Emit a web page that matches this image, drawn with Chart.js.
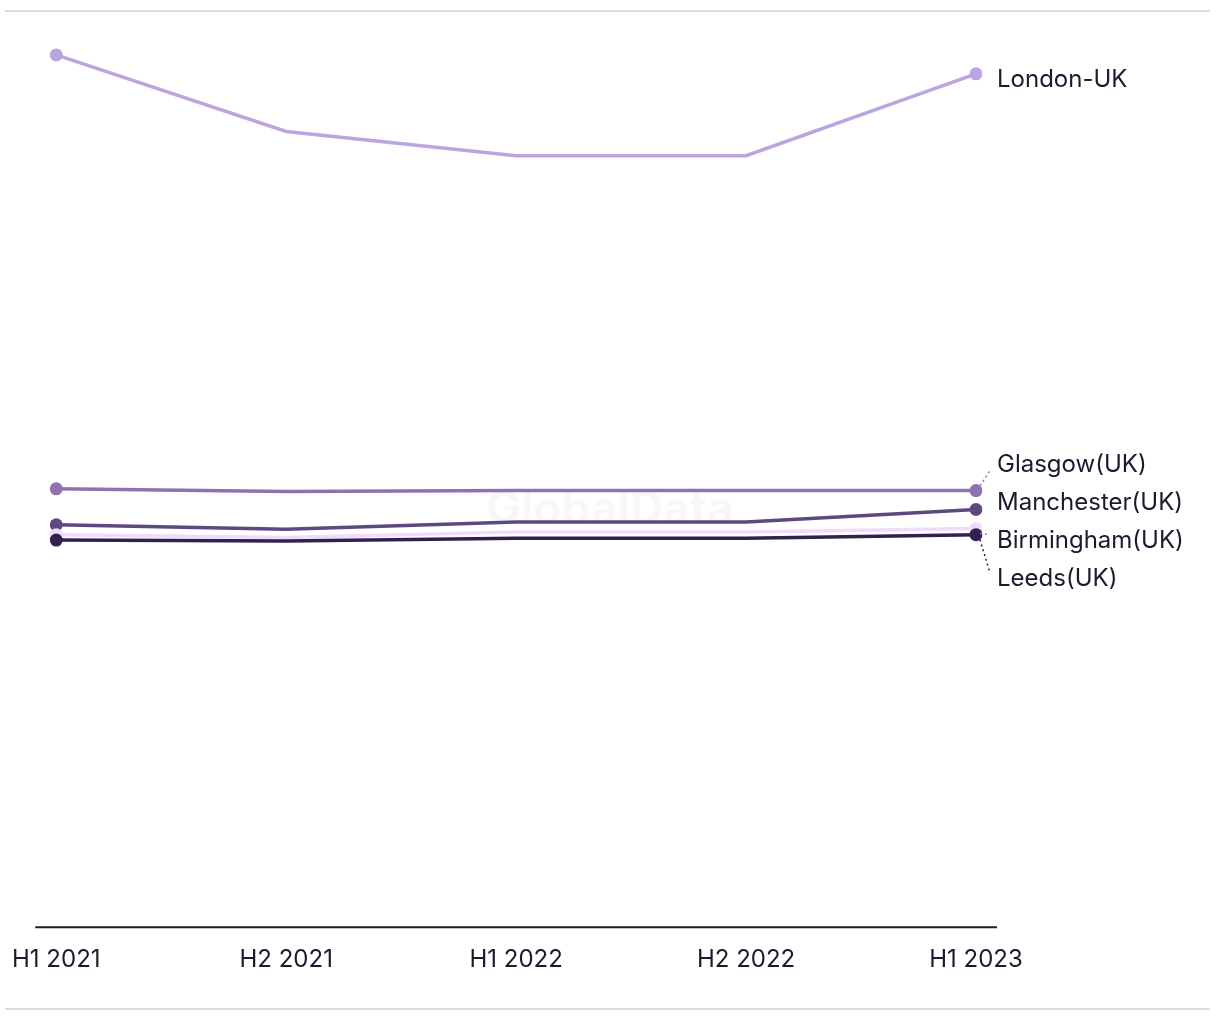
<!DOCTYPE html>
<html>
<head>
<meta charset="utf-8">
<script src="https://cdn.jsdelivr.net/npm/chart.js@4.4.1/dist/chart.umd.min.js"></script>
<style>
  html, body { margin: 0; padding: 0; background: #fff; overflow: hidden; }
  .frame { position: absolute; left: 5px; top: 10px; width: 1205px; height: 996px;
           border-top: 2px solid #dcdcdc; border-bottom: 2px solid #dcdcdc; }
  .wrap { position: absolute; left: -6px; top: 0; width: 1226px; height: 1020px; }
</style>
</head>
<body>
<div class="frame"></div>
<div class="wrap"><canvas id="chart"></canvas></div>
<script>
const periods = ['H1 2021', 'H2 2021', 'H1 2022', 'H2 2022', 'H1 2023'];

const london     = [96.9, 88.4, 85.7, 85.7, 94.8];
const glasgow    = [48.7, 48.4, 48.5, 48.5, 48.5];
const manchester = [44.7, 44.2, 45.0, 45.0, 46.4];
const birmingham = [43.6, 43.3, 43.9, 43.9, 44.3];
const leeds      = [43.0, 42.9, 43.2, 43.2, 43.6];

const FONT = 'Inter, "Open Sans", sans-serif';
const TEXT = '#1b1a2e';

// top-most series first (Chart.js paints dataset 0 last)
const series = [
  { label: 'Leeds(UK)',      data: leeds,      color: '#322050' },
  { label: 'Birmingham(UK)', data: birmingham, color: '#f3d9fc' },
  { label: 'Manchester(UK)', data: manchester, color: '#5e4880' },
  { label: 'Glasgow(UK)',    data: glasgow,    color: '#8e73af' },
  { label: 'London-UK',      data: london,     color: '#bba5e0' },
];

// only first and last points get a dot
const endDots = (n) => Array.from({ length: n }, (_, i) => (i === 0 || i === n - 1) ? 6.5 : 0);

// ── watermark + x axis line ──
const backdrop = {
  id: 'backdrop',
  beforeDatasetsDraw(chart) {
    const { ctx, chartArea: a } = chart;
    ctx.save();
    ctx.font = 'bold 46px ' + FONT;
    ctx.fillStyle = 'rgba(0,0,0,0.03)';
    ctx.textAlign = 'center';
    ctx.textBaseline = 'middle';
    ctx.fillText('GlobalData', 616, 510);
    ctx.strokeStyle = TEXT;
    ctx.lineWidth = 2;
    ctx.beginPath();
    ctx.moveTo(a.left - 21, a.bottom);
    ctx.lineTo(a.right + 21, a.bottom);
    ctx.stroke();
    ctx.restore();
  }
};

// ── end labels with dotted leaders ──
const endLabels = {
  id: 'endLabels',
  afterDatasetsDraw(chart) {
    const { ctx } = chart;
    const items = chart.data.datasets.map((ds, i) => {
      const pt = chart.getDatasetMeta(i).data[ds.data.length - 1];
      return { text: ds.label, color: ds.borderColor, x: pt.x, y: pt.y, ly: pt.y };
    }).sort((p, q) => p.y - q.y);

    // spread overlapping labels apart
    const gap = 38;
    for (let iter = 0; iter < 50; iter++) {
      for (let i = 1; i < items.length; i++) {
        const d = items[i].ly - items[i - 1].ly;
        if (d < gap) {
          const push = (gap - d) / 2;
          items[i].ly += push;
          items[i - 1].ly -= push;
        }
      }
    }

    ctx.save();
    ctx.font = '24px ' + FONT;
    ctx.textBaseline = 'middle';
    ctx.fillStyle = TEXT;
    items.forEach(it => {
      const ty = it.ly + 6;
      if (Math.abs(ty - it.y) > 9) {
        const dir = ty > it.y ? 1 : -1;
        ctx.save();
        ctx.strokeStyle = it.color === '#f3d9fc' ? '#8e73af' : it.color;
        ctx.lineWidth = 1.5;
        ctx.setLineDash([2, 3]);
        ctx.beginPath();
        ctx.moveTo(it.x + 4, it.y + dir * 5);
        ctx.lineTo(it.x + 14, ty - dir * 6);
        ctx.stroke();
        ctx.restore();
      }
      ctx.fillText(it.text, it.x + 21, ty);
    });
    ctx.restore();
  }
};

new Chart(document.getElementById('chart'), {
  type: 'line',
  data: {
    labels: periods,
    datasets: series.map(s => ({
      label: s.label,
      data: s.data,
      borderColor: s.color,
      backgroundColor: s.color,
      pointBackgroundColor: s.color,
      pointBorderColor: s.color,
      borderWidth: 3.5,
      pointRadius: endDots(s.data.length),
      pointBorderWidth: 0,
      tension: 0,
    })),
  },
  options: {
    responsive: true,
    maintainAspectRatio: false,
    animation: false,
    layout: { padding: { left: 51, right: 244, top: 27, bottom: 28 } },
    plugins: { legend: { display: false }, tooltip: { enabled: false } },
    scales: {
      x: {
        offset: false,
        grid: { display: false, drawTicks: false },
        border: { display: false },
        ticks: { color: TEXT, font: { family: FONT, size: 24 }, padding: 18, maxRotation: 0, autoSkip: false },
      },
      y: {
        display: false,
        min: 0,
        max: 100,
      },
    },
  },
  plugins: [backdrop, endLabels],
});
</script>
</body>
</html>
